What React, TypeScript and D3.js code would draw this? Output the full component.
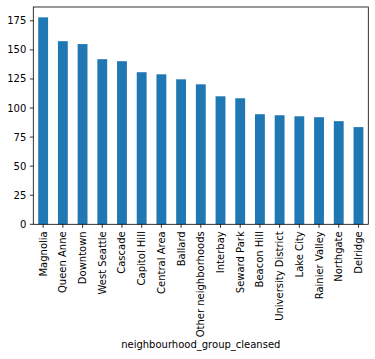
import React from "react";
import * as d3 from "d3";

const categories = [
  "Magnolia", "Queen Anne", "Downtown", "West Seattle", "Cascade", "Capitol Hill",
  "Central Area", "Ballard", "Other neighborhoods", "Interbay", "Seward Park",
  "Beacon Hill", "University District", "Lake City", "Rainier Valley", "Northgate", "Delridge",
];
const values = [178, 157.5, 155, 142, 140.3, 130.8, 129, 124.7, 120.4, 110.1, 108.4, 94.7, 93.8, 92.9, 92.1, 88.7, 83.6];
const yTicks = [0, 25, 50, 75, 100, 125, 150, 175];
const xLabel = "neighbourhood_group_cleansed";

const W = 375, H = 359;
const left = 33.3, right = 368.3, top = 7, bottom = 224.3;
const font = "'DejaVu Sans', sans-serif";

export default function App() {
  const yMax = d3.max(values)! * 1.05;
  const y = d3.scaleLinear().domain([0, yMax]).range([bottom, top]);
  const x = d3.scaleBand().domain(categories).range([left, right]).paddingInner(0.5).paddingOuter(0.25);
  return (
    <svg width={W} height={H} style={{ position: "absolute", left: 0, top: 0, background: "#fff" }}>
      {categories.map((c, i) => (
        <rect key={c} x={x(c)} y={y(values[i])} width={x.bandwidth()} height={bottom - y(values[i])} fill="#1f77b4" />
      ))}
      <rect x={left} y={top} width={right - left} height={bottom - top} fill="none" stroke="#000" strokeWidth={0.8} />
      {yTicks.map((t) => (
        <g key={t}>
          <line x1={left - 3.5} x2={left} y1={y(t)} y2={y(t)} stroke="#000" strokeWidth={0.8} />
          <text x={left - 7} y={y(t)} dy="0.35em" textAnchor="end" fontSize={10} fontFamily={font} fill="#000">{t}</text>
        </g>
      ))}
      {categories.map((c) => {
        const cx = x(c)! + x.bandwidth() / 2;
        return (
          <g key={c}>
            <line x1={cx} x2={cx} y1={bottom} y2={bottom + 3.5} stroke="#000" strokeWidth={0.8} />
            <text transform={`translate(${cx},${bottom + 7}) rotate(-90)`} dy="0.35em" textAnchor="end" fontSize={10} fontFamily={font} fill="#000">{c}</text>
          </g>
        );
      })}
      <text x={(left + right) / 2} y={348} textAnchor="middle" fontSize={10} fontFamily={font} fill="#000">{xLabel}</text>
    </svg>
  );
}
